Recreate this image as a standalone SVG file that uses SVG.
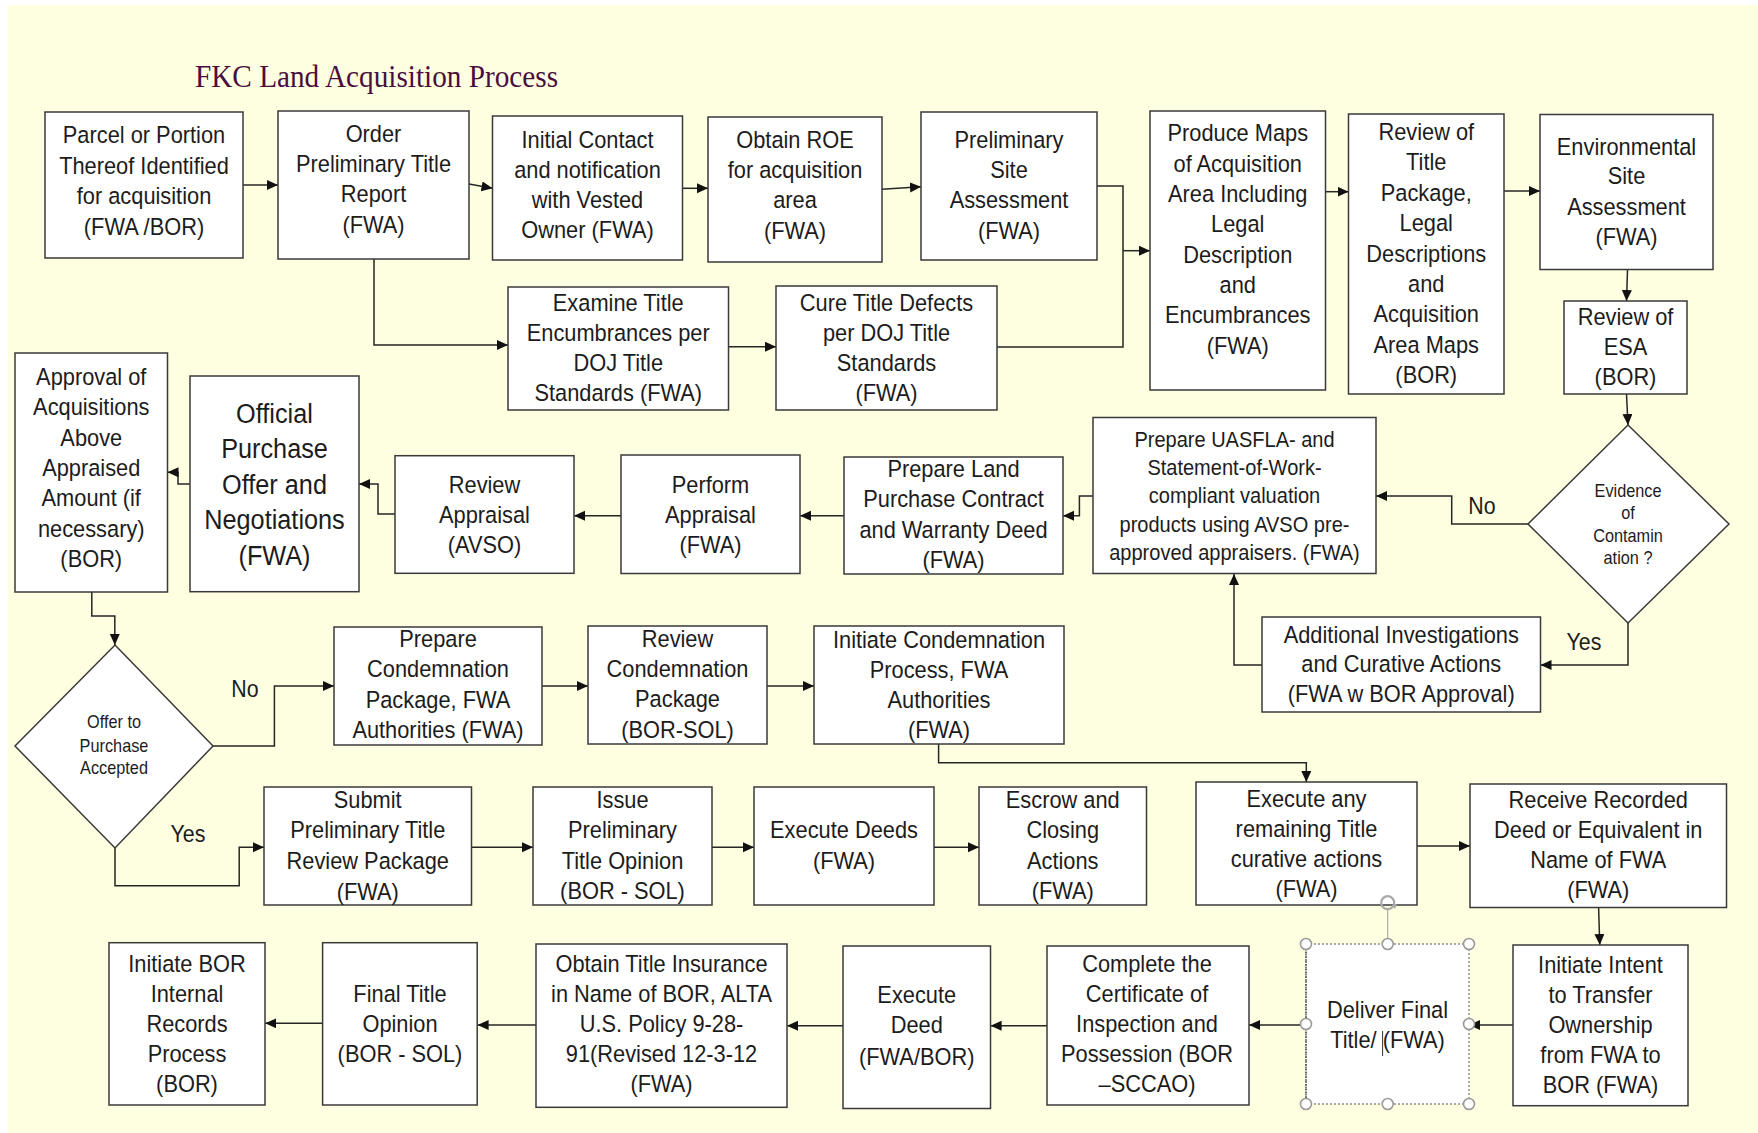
<svg xmlns="http://www.w3.org/2000/svg" width="1758" height="1133" viewBox="0 0 1758 1133">
<style>
.bg{fill:#FEFEE1}
.box{fill:#fff;stroke:#3a3a3a;stroke-width:1.5}
.t{font-family:"Liberation Sans",Arial,sans-serif;font-size:24.5px;fill:#1c1c1c;text-anchor:middle}
.big{font-size:28.4px}
.sm{font-size:22.5px}
.dm{font-size:18.3px}
.lbl{font-family:"Liberation Sans",Arial,sans-serif;font-size:24px;fill:#1c1c1c;text-anchor:middle}
.c{fill:none;stroke:#262626;stroke-width:1.5}
.a{marker-end:url(#ah)}
.h{fill:#fff;stroke:#9a9a9a;stroke-width:1.6}
.title{font-family:"Liberation Serif","Times New Roman",serif;font-size:32.5px;fill:#4A0E3E;text-anchor:middle}
</style>
<defs>
<marker id="ah" markerUnits="userSpaceOnUse" markerWidth="12" markerHeight="11" refX="11" refY="5" orient="auto">
<path d="M0,0 L11,5 L0,10 z" fill="#111"/>
</marker>
</defs>
<rect x="0" y="0" width="1758" height="1133" fill="#fff"/>
<rect class="bg" x="8" y="5" width="1750" height="1128"/>
<text class="title" transform="matrix(.9 0 0 1 376.5 0)"><tspan x="0" y="87">FKC Land Acquisition Process</tspan></text>

<g id="connectors">
<path class="c a" d="M243,185 H278"/>
<path class="c a" d="M469,184 L492.5,188.3"/>
<path class="c a" d="M374,259 V345 H508"/>
<path class="c a" d="M682.5,188.3 H708"/>
<path class="c a" d="M882,189.3 L921,186.7"/>
<path class="c a" d="M728.5,346.7 H776"/>
<path class="c" d="M1097,186 H1123 V347 H997"/>
<path class="c a" d="M1123,250.7 H1150"/>
<path class="c a" d="M1325.5,191.7 H1348.5"/>
<path class="c a" d="M1504,191 H1540"/>
<path class="c a" d="M1627.5,269.5 L1626.5,301"/>
<path class="c a" d="M1626.5,394 L1628,425"/>
<path class="c a" d="M1528,524 H1451.7 V496 H1376"/>
<path class="c a" d="M1628,623 V665 H1540.5"/>
<path class="c a" d="M1262,665 H1234 V574"/>
<path class="c a" d="M1093,496 H1079.4 V515.7 H1063"/>
<path class="c a" d="M844,515.7 H800"/>
<path class="c a" d="M621,515.7 H574"/>
<path class="c a" d="M395,514 H378 V484 H359"/>
<path class="c a" d="M190,484 H178 V472.3 H167.5"/>
<path class="c a" d="M91.8,592 V616 H114.8 V645"/>
<path class="c a" d="M213,746 H274.4 V686 H334"/>
<path class="c a" d="M542,686 H588"/>
<path class="c a" d="M767,686 H814"/>
<path class="c a" d="M115,848 V885.7 H239.2 V847.3 H264"/>
<path class="c a" d="M471.5,847.3 H533"/>
<path class="c a" d="M712,847.3 H754"/>
<path class="c a" d="M934,847.3 H979"/>
<path class="c a" d="M938.6,744 V762.7 H1306.3 V782"/>
<path class="c a" d="M1417,846 H1470"/>
<path class="c a" d="M1598.6,908 L1599.8,945"/>
<path class="c a" d="M1513,1025 H1469"/>
<path class="c a" d="M1306,1025 H1249"/>
<path class="c a" d="M1047,1025.7 H990.6"/>
<path class="c a" d="M843,1025.7 H787"/>
<path class="c a" d="M536,1025 H477.6"/>
<path class="c a" d="M322.6,1023.3 H265.2"/>
</g>

<g id="labels">
<text class="lbl" transform="matrix(.89 0 0 1 1482 0)"><tspan x="0" y="514">No</tspan></text>
<text class="lbl" transform="matrix(.89 0 0 1 1584 0)"><tspan x="0" y="650">Yes</tspan></text>
<text class="lbl" transform="matrix(.89 0 0 1 245 0)"><tspan x="0" y="697">No</tspan></text>
<text class="lbl" transform="matrix(.89 0 0 1 188 0)"><tspan x="0" y="842">Yes</tspan></text>
</g>

<g id="n1"><rect class="box" x="45" y="112" width="198" height="146"/>
<text class="t" transform="matrix(.89 0 0 1 144 0)"><tspan x="0" y="143">Parcel or Portion</tspan><tspan x="0" y="174">Thereof Identified</tspan><tspan x="0" y="204">for acquisition</tspan><tspan x="0" y="235">(FWA /BOR)</tspan></text></g>

<g id="n2"><rect class="box" x="278" y="111" width="191" height="148"/>
<text class="t" transform="matrix(.89 0 0 1 373.5 0)"><tspan x="0" y="142">Order</tspan><tspan x="0" y="172">Preliminary Title</tspan><tspan x="0" y="202">Report</tspan><tspan x="0" y="233">(FWA)</tspan></text></g>

<g id="n3"><rect class="box" x="492.5" y="116" width="190" height="144"/>
<text class="t" transform="matrix(.89 0 0 1 587.5 0)"><tspan x="0" y="148">Initial Contact</tspan><tspan x="0" y="178">and notification</tspan><tspan x="0" y="208">with Vested</tspan><tspan x="0" y="238">Owner (FWA)</tspan></text></g>

<g id="n4"><rect class="box" x="708" y="117" width="174" height="145"/>
<text class="t" transform="matrix(.89 0 0 1 795 0)"><tspan x="0" y="148">Obtain ROE</tspan><tspan x="0" y="178.5">for acquisition</tspan><tspan x="0" y="208.5">area</tspan><tspan x="0" y="239">(FWA)</tspan></text></g>

<g id="n5"><rect class="box" x="921" y="112" width="176" height="148"/>
<text class="t" transform="matrix(.89 0 0 1 1009 0)"><tspan x="0" y="148">Preliminary</tspan><tspan x="0" y="178">Site</tspan><tspan x="0" y="208">Assessment</tspan><tspan x="0" y="239">(FWA)</tspan></text></g>

<g id="n6"><rect class="box" x="1150" y="111" width="175.5" height="279"/>
<text class="t" transform="matrix(.89 0 0 1 1237.75 0)"><tspan x="0" y="141.5">Produce Maps</tspan><tspan x="0" y="171.8">of Acquisition</tspan><tspan x="0" y="202.1">Area Including</tspan><tspan x="0" y="232.4">Legal</tspan><tspan x="0" y="262.7">Description</tspan><tspan x="0" y="293">and</tspan><tspan x="0" y="323.3">Encumbrances</tspan><tspan x="0" y="353.6">(FWA)</tspan></text></g>

<g id="n7"><rect class="box" x="1348.5" y="114" width="155.5" height="280"/>
<text class="t" transform="matrix(.89 0 0 1 1426.25 0)"><tspan x="0" y="140">Review of</tspan><tspan x="0" y="170.4">Title</tspan><tspan x="0" y="200.8">Package,</tspan><tspan x="0" y="231.2">Legal</tspan><tspan x="0" y="261.6">Descriptions</tspan><tspan x="0" y="292">and</tspan><tspan x="0" y="322.4">Acquisition</tspan><tspan x="0" y="352.8">Area Maps</tspan><tspan x="0" y="383.2">(BOR)</tspan></text></g>

<g id="n8"><rect class="box" x="1540" y="114.5" width="173" height="155"/>
<text class="t" transform="matrix(.89 0 0 1 1626.5 0)"><tspan x="0" y="155">Environmental</tspan><tspan x="0" y="184.5">Site</tspan><tspan x="0" y="215">Assessment</tspan><tspan x="0" y="245">(FWA)</tspan></text></g>

<g id="n9"><rect class="box" x="1564" y="301" width="123" height="93"/>
<text class="t" transform="matrix(.89 0 0 1 1625.5 0)"><tspan x="0" y="325">Review of</tspan><tspan x="0" y="355">ESA</tspan><tspan x="0" y="385">(BOR)</tspan></text></g>

<g id="n10"><rect class="box" x="508" y="287" width="220.5" height="123"/>
<text class="t" transform="matrix(.89 0 0 1 618.25 0)"><tspan x="0" y="310.7">Examine Title</tspan><tspan x="0" y="341">Encumbrances per</tspan><tspan x="0" y="371">DOJ Title</tspan><tspan x="0" y="400.7">Standards (FWA)</tspan></text></g>

<g id="n11"><rect class="box" x="776" y="286" width="221" height="124"/>
<text class="t" transform="matrix(.89 0 0 1 886.5 0)"><tspan x="0" y="310.7">Cure Title Defects</tspan><tspan x="0" y="341">per DOJ Title</tspan><tspan x="0" y="371">Standards</tspan><tspan x="0" y="400.7">(FWA)</tspan></text></g>

<g id="n12"><polygon class="box" points="1628,425 1729,524 1628,623 1528,524"/>
<text class="t dm" transform="matrix(.89 0 0 1 1628 0)"><tspan x="0" y="496.7">Evidence</tspan><tspan x="0" y="519">of</tspan><tspan x="0" y="541.7">Contamin</tspan><tspan x="0" y="564">ation ?</tspan></text></g>

<g id="n13"><rect class="box" x="1093" y="417.5" width="283" height="156"/>
<text class="t sm" transform="matrix(.89 0 0 1 1234.5 0)"><tspan x="0" y="447">Prepare UASFLA- and</tspan><tspan x="0" y="475">Statement-of-Work-</tspan><tspan x="0" y="503.5">compliant valuation</tspan><tspan x="0" y="532">products using AVSO pre-</tspan><tspan x="0" y="560.5">approved appraisers. (FWA)</tspan></text></g>

<g id="n14"><rect class="box" x="1262" y="617" width="278.5" height="95"/>
<text class="t" transform="matrix(.89 0 0 1 1401.25 0)"><tspan x="0" y="642.7">Additional Investigations</tspan><tspan x="0" y="671.7">and Curative Actions</tspan><tspan x="0" y="701.7">(FWA w BOR Approval)</tspan></text></g>

<g id="n15"><rect class="box" x="844" y="457" width="219" height="117"/>
<text class="t" transform="matrix(.89 0 0 1 953.5 0)"><tspan x="0" y="477.3">Prepare Land</tspan><tspan x="0" y="507.3">Purchase Contract</tspan><tspan x="0" y="537.7">and Warranty Deed</tspan><tspan x="0" y="568">(FWA)</tspan></text></g>

<g id="n16"><rect class="box" x="621" y="455" width="179" height="118.5"/>
<text class="t" transform="matrix(.89 0 0 1 710.5 0)"><tspan x="0" y="493.3">Perform</tspan><tspan x="0" y="522.7">Appraisal</tspan><tspan x="0" y="552.7">(FWA)</tspan></text></g>

<g id="n17"><rect class="box" x="395" y="455.7" width="179" height="117.6"/>
<text class="t" transform="matrix(.89 0 0 1 484.5 0)"><tspan x="0" y="493.3">Review</tspan><tspan x="0" y="523.3">Appraisal</tspan><tspan x="0" y="553.3">(AVSO)</tspan></text></g>

<g id="n18"><rect class="box" x="190" y="376" width="169" height="215.7"/>
<text class="t big" transform="matrix(.89 0 0 1 274.5 0)"><tspan x="0" y="423.3">Official</tspan><tspan x="0" y="458.3">Purchase</tspan><tspan x="0" y="494">Offer and</tspan><tspan x="0" y="529.3">Negotiations</tspan><tspan x="0" y="565">(FWA)</tspan></text></g>

<g id="n19"><rect class="box" x="15" y="353" width="152.5" height="239"/>
<text class="t" transform="matrix(.89 0 0 1 91.25 0)"><tspan x="0" y="385">Approval of</tspan><tspan x="0" y="415.3">Acquisitions</tspan><tspan x="0" y="445.7">Above</tspan><tspan x="0" y="476">Appraised</tspan><tspan x="0" y="506.5">Amount (if</tspan><tspan x="0" y="536.8">necessary)</tspan><tspan x="0" y="567.5">(BOR)</tspan></text></g>

<g id="n20"><polygon class="box" points="115,645 213,746 115,848 15,746"/>
<text class="t dm" transform="matrix(.89 0 0 1 114 0)"><tspan x="0" y="728.3">Offer to</tspan><tspan x="0" y="751.7">Purchase</tspan><tspan x="0" y="774">Accepted</tspan></text></g>

<g id="n21"><rect class="box" x="334" y="627" width="208" height="118"/>
<text class="t" transform="matrix(.89 0 0 1 438 0)"><tspan x="0" y="646.7">Prepare</tspan><tspan x="0" y="677.3">Condemnation</tspan><tspan x="0" y="708">Package, FWA</tspan><tspan x="0" y="738.3">Authorities (FWA)</tspan></text></g>

<g id="n22"><rect class="box" x="588" y="626" width="179" height="118"/>
<text class="t" transform="matrix(.89 0 0 1 677.5 0)"><tspan x="0" y="646.7">Review</tspan><tspan x="0" y="677.3">Condemnation</tspan><tspan x="0" y="707.3">Package</tspan><tspan x="0" y="737.7">(BOR-SOL)</tspan></text></g>

<g id="n23"><rect class="box" x="814" y="626" width="250" height="118"/>
<text class="t" transform="matrix(.89 0 0 1 939 0)"><tspan x="0" y="648.3">Initiate Condemnation</tspan><tspan x="0" y="678.3">Process, FWA</tspan><tspan x="0" y="708.3">Authorities</tspan><tspan x="0" y="738.3">(FWA)</tspan></text></g>

<g id="n24"><rect class="box" x="264" y="787" width="207.5" height="118"/>
<text class="t" transform="matrix(.89 0 0 1 367.75 0)"><tspan x="0" y="808.3">Submit</tspan><tspan x="0" y="838.3">Preliminary Title</tspan><tspan x="0" y="869.3">Review Package</tspan><tspan x="0" y="900">(FWA)</tspan></text></g>

<g id="n25"><rect class="box" x="533" y="787" width="179" height="118"/>
<text class="t" transform="matrix(.89 0 0 1 622.5 0)"><tspan x="0" y="808.3">Issue</tspan><tspan x="0" y="838.3">Preliminary</tspan><tspan x="0" y="869.3">Title Opinion</tspan><tspan x="0" y="899">(BOR - SOL)</tspan></text></g>

<g id="n26"><rect class="box" x="754" y="787" width="180" height="118"/>
<text class="t" transform="matrix(.89 0 0 1 844 0)"><tspan x="0" y="838.3">Execute Deeds</tspan><tspan x="0" y="869.3">(FWA)</tspan></text></g>

<g id="n27"><rect class="box" x="979" y="787" width="167.5" height="118"/>
<text class="t" transform="matrix(.89 0 0 1 1062.75 0)"><tspan x="0" y="808.3">Escrow and</tspan><tspan x="0" y="838.3">Closing</tspan><tspan x="0" y="869.3">Actions</tspan><tspan x="0" y="899.3">(FWA)</tspan></text></g>

<g id="n28"><rect class="box" x="1196" y="782" width="221" height="123"/>
<text class="t" transform="matrix(.89 0 0 1 1306.5 0)"><tspan x="0" y="806.7">Execute any</tspan><tspan x="0" y="836.7">remaining Title</tspan><tspan x="0" y="866.7">curative actions</tspan><tspan x="0" y="896.7">(FWA)</tspan></text></g>

<g id="n29"><rect class="box" x="1470" y="784" width="256.5" height="123.5"/>
<text class="t" transform="matrix(.89 0 0 1 1598.25 0)"><tspan x="0" y="808.3">Receive Recorded</tspan><tspan x="0" y="838.3">Deed or Equivalent in</tspan><tspan x="0" y="868.3">Name of FWA</tspan><tspan x="0" y="898.3">(FWA)</tspan></text></g>

<g id="n30"><rect class="box" x="1513" y="945" width="175" height="160.7"/>
<text class="t" transform="matrix(.89 0 0 1 1600.5 0)"><tspan x="0" y="973.3">Initiate Intent</tspan><tspan x="0" y="1003.3">to Transfer</tspan><tspan x="0" y="1033.3">Ownership</tspan><tspan x="0" y="1063.3">from FWA to</tspan><tspan x="0" y="1093.3">BOR (FWA)</tspan></text></g>

<g id="n31">
<rect x="1306" y="944" width="163" height="160" fill="#fff" stroke="#555" stroke-width="1" stroke-dasharray="2 2"/>
<line x1="1306" y1="944" x2="1306" y2="1104" stroke="#333" stroke-width="1.2" stroke-dasharray="1.5 1"/>
<text class="t" transform="matrix(.89 0 0 1 1387.5 0)"><tspan x="0" y="1018.3">Deliver Final</tspan><tspan x="0" y="1048.3">Title/ (FWA)</tspan></text>
<line x1="1382.6" y1="1031" x2="1382.6" y2="1056" stroke="#333" stroke-width="1"/>
<line x1="1387.7" y1="910" x2="1387.7" y2="944" stroke="#aaa" stroke-width="1.2"/>
<circle cx="1387.7" cy="902.7" r="6.5" fill="none" stroke="#aaa" stroke-width="2.2"/>
<path d="M1392,905 l5,-1 l-2,5 z" fill="#aaa"/>
<circle class="h" cx="1306" cy="944" r="5.5"/>
<circle class="h" cx="1387.7" cy="944" r="5.5"/>
<circle class="h" cx="1469" cy="944" r="5.5"/>
<circle class="h" cx="1306" cy="1024" r="5.5"/>
<circle class="h" cx="1469" cy="1024" r="5.5"/>
<circle class="h" cx="1306" cy="1104" r="5.5"/>
<circle class="h" cx="1387.7" cy="1104" r="5.5"/>
<circle class="h" cx="1469" cy="1104" r="5.5"/>
</g>

<g id="n32"><rect class="box" x="1047" y="946" width="202" height="159"/>
<text class="t" transform="matrix(.89 0 0 1 1147 0)"><tspan x="0" y="972.5">Complete the</tspan><tspan x="0" y="1002">Certificate of</tspan><tspan x="0" y="1032">Inspection and</tspan><tspan x="0" y="1062">Possession (BOR</tspan><tspan x="0" y="1092">–SCCAO)</tspan></text></g>

<g id="n33"><rect class="box" x="843" y="946" width="147.5" height="162.5"/>
<text class="t" transform="matrix(.89 0 0 1 916.75 0)"><tspan x="0" y="1003.3">Execute</tspan><tspan x="0" y="1033.3">Deed</tspan><tspan x="0" y="1065">(FWA/BOR)</tspan></text></g>

<g id="n34"><rect class="box" x="536" y="944" width="251" height="163.3"/>
<text class="t" transform="matrix(.89 0 0 1 661.5 0)"><tspan x="0" y="971.7">Obtain Title Insurance</tspan><tspan x="0" y="1001.7">in Name of BOR, ALTA</tspan><tspan x="0" y="1031.7">U.S. Policy 9-28-</tspan><tspan x="0" y="1061.7">91(Revised 12-3-12</tspan><tspan x="0" y="1091.7">(FWA)</tspan></text></g>

<g id="n35"><rect class="box" x="322.6" y="942.7" width="154.6" height="162.3"/>
<text class="t" transform="matrix(.89 0 0 1 400 0)"><tspan x="0" y="1001.7">Final Title</tspan><tspan x="0" y="1031.7">Opinion</tspan><tspan x="0" y="1061.7">(BOR - SOL)</tspan></text></g>

<g id="n36"><rect class="box" x="109" y="942.7" width="156" height="162.3"/>
<text class="t" transform="matrix(.89 0 0 1 187 0)"><tspan x="0" y="971.7">Initiate BOR</tspan><tspan x="0" y="1001.7">Internal</tspan><tspan x="0" y="1031.7">Records</tspan><tspan x="0" y="1061.7">Process</tspan><tspan x="0" y="1091.7">(BOR)</tspan></text></g>
</svg>
